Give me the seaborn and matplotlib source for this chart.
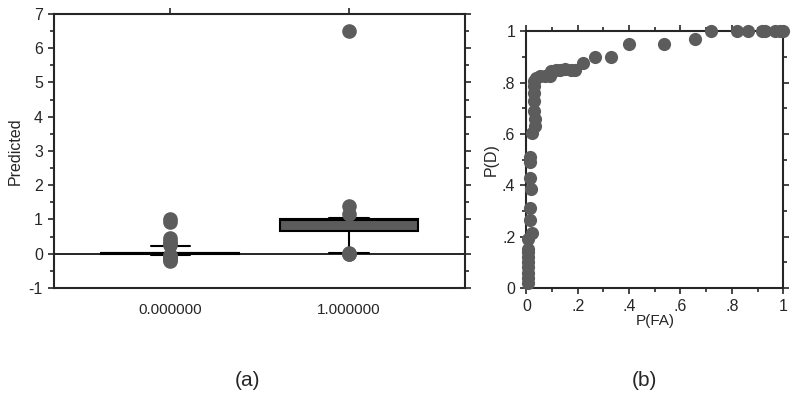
import numpy as np
import pandas as pd
import seaborn as sns
from matplotlib import pyplot as plt
from matplotlib.ticker import MultipleLocator

# panel (a): predicted values for each actual class
class_labels = ["0.000000", "1.000000"]
pred_neg = [
    -0.20, -0.17, -0.13, -0.10, -0.07, -0.05,
    -0.03, -0.02, -0.02, -0.01, -0.01, -0.01, 0.00, 0.00, 0.00,
    0.00, 0.00, 0.00, 0.00, 0.00, 0.00, 0.00, 0.01, 0.01, 0.01,
    0.01, 0.01, 0.01, 0.01, 0.01, 0.01, 0.01, 0.01, 0.02, 0.02,
    0.02, 0.02, 0.02, 0.02, 0.02, 0.03, 0.03, 0.03, 0.03, 0.03,
    0.03, 0.04, 0.05, 0.07, 0.09, 0.12, 0.15, 0.18, 0.20, 0.22,
    0.26, 0.32, 0.38, 0.45, 0.92, 1.00,
]
pred_pos = [
    0.00, 0.00, 0.01, 0.03, 0.30, 0.50, 0.62, 0.66, 0.68, 0.72,
    0.78, 0.84, 0.90, 0.94, 0.96, 0.98, 0.99, 0.99, 1.00, 1.00,
    1.00, 1.00, 1.00, 1.00, 1.01, 1.02, 1.03, 1.05, 1.15, 1.40, 6.50,
]

# panel (b): ROC points
p_fa = [0.005, 0.005, 0.005, 0.005, 0.005, 0.005, 0.005, 0.005,
        0.006, 0.02, 0.013, 0.013, 0.016, 0.013, 0.013, 0.013, 0.02,
        0.032, 0.032, 0.030, 0.030, 0.030, 0.030, 0.030,
        0.039, 0.052, 0.071, 0.09, 0.097, 0.114, 0.13, 0.149, 0.175,
        0.188, 0.221, 0.266, 0.329, 0.399, 0.536, 0.656, 0.718, 0.822,
        0.864, 0.916, 0.929, 0.968, 0.987, 1.0]
p_d = [0.02, 0.04, 0.06, 0.08, 0.10, 0.12, 0.14, 0.15,
       0.19, 0.215, 0.266, 0.31, 0.386, 0.43, 0.49, 0.51, 0.604,
       0.63, 0.66, 0.69, 0.727, 0.76, 0.786, 0.805,
       0.818, 0.827, 0.827, 0.827, 0.844, 0.85, 0.85, 0.853, 0.85,
       0.85, 0.878, 0.9, 0.9, 0.95, 0.95, 0.97, 1.0, 1.0,
       1.0, 1.0, 1.0, 1.0, 1.0, 1.0]
roc_ticks = [0, 0.2, 0.4, 0.6, 0.8, 1.0]
roc_labels = ["0", ".2", ".4", ".6", ".8", "1"]

sns.set_style("ticks")
plt.rcParams["font.family"] = ["Liberation Sans", "DejaVu Sans"]
plt.rcParams["axes.linewidth"] = 1.5
plt.rcParams["axes.unicode_minus"] = False

GRAY = "#5c5c5c"

fig = plt.figure(figsize=(8, 4), dpi=100)

# --- (a) box plot ---
ax1 = fig.add_axes([0.0675, 0.28, 0.514, 0.685])
df = pd.DataFrame({
    "actual": [class_labels[0]] * len(pred_neg) + [class_labels[1]] * len(pred_pos),
    "predicted": pred_neg + pred_pos,
})
ax1.axhline(0, color="black", lw=1.2, zorder=0)
sns.boxplot(
    data=df, x="actual", y="predicted", order=class_labels,
    whis=(10, 90), width=0.77, color=GRAY, saturation=1,
    linecolor="black", linewidth=1.5, capwidths=0.22,
    flierprops=dict(marker="o", markersize=9.5, markerfacecolor=GRAY,
                    markeredgecolor=GRAY, zorder=3),
    ax=ax1,
)
ax1.set_xlim(-0.65, 1.65)
ax1.set_ylim(-1, 7)
ax1.yaxis.set_minor_locator(MultipleLocator(0.5))
ax1.set_xlabel("")
ax1.set_ylabel("Predicted", fontsize=11.5)
ax1.tick_params(axis="y", which="both", direction="out", left=True, right=True,
                labelsize=11.5, width=1.2)
ax1.tick_params(axis="y", which="major", length=4.5)
ax1.tick_params(axis="y", which="minor", length=3)
ax1.tick_params(axis="x", which="both", direction="out", bottom=False, top=True,
                labelsize=11, length=4, width=1.2, pad=7)
for s in ax1.spines.values():
    s.set_visible(True)

# --- (b) ROC curve ---
ax2 = fig.add_axes([0.658, 0.28, 0.321, 0.642])
sns.scatterplot(x=p_fa, y=p_d, s=90, color=GRAY, edgecolor=GRAY,
                linewidth=0, clip_on=False, zorder=3, ax=ax2)
ax2.set_xlim(0, 1)
ax2.set_ylim(0, 1)
ax2.set_xticks(roc_ticks, roc_labels)
ax2.set_yticks(roc_ticks, roc_labels)
ax2.xaxis.set_minor_locator(MultipleLocator(0.1))
ax2.yaxis.set_minor_locator(MultipleLocator(0.1))
ax2.tick_params(which="both", direction="out", top=True, right=True,
                labelsize=11.5, width=1.2)
ax2.tick_params(which="major", length=4.5)
ax2.tick_params(which="minor", length=3)
ax2.set_xlabel("P(FA)", fontsize=11, labelpad=0)
ax2.set_ylabel("P(D)", fontsize=11.5, labelpad=2)
for s in ax2.spines.values():
    s.set_visible(True)

fig.text(0.309, 0.05, "(a)", ha="center", va="center", fontsize=15)
fig.text(0.806, 0.05, "(b)", ha="center", va="center", fontsize=15)

fig.savefig("out.png", dpi=100, facecolor="white")
